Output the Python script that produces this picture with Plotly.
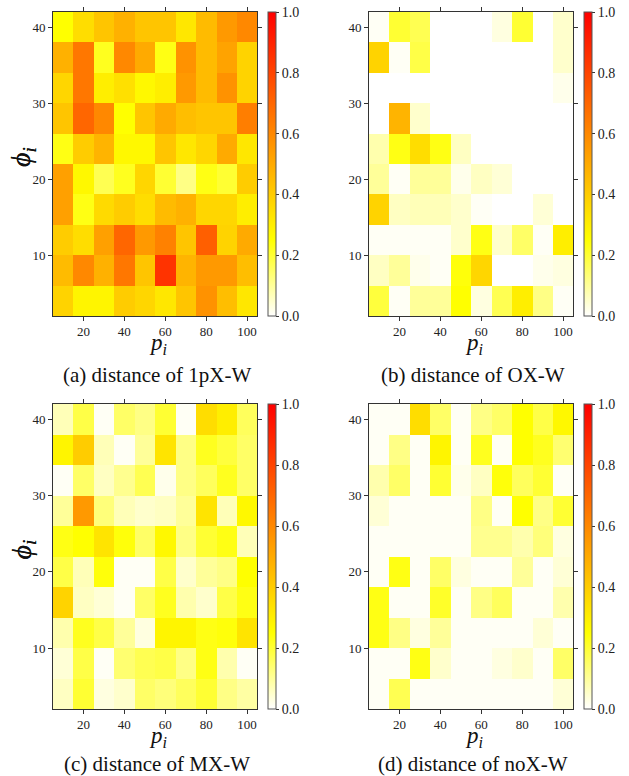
import plotly.graph_objects as go

# Grid coordinates
p_vals = [10, 20, 30, 40, 50, 60, 70, 80, 90, 100]
phi_vals = [4, 8, 12, 16, 20, 24, 28, 32, 36, 40]

# Distance matrices, rows listed from phi = 40 (top) down to phi = 4 (bottom)
dist_1px = [
    [0.25, 0.35, 0.42, 0.48, 0.42, 0.42, 0.32, 0.45, 0.55, 0.60],
    [0.48, 0.65, 0.22, 0.60, 0.50, 0.23, 0.57, 0.45, 0.52, 0.38],
    [0.37, 0.65, 0.30, 0.34, 0.27, 0.30, 0.55, 0.45, 0.57, 0.38],
    [0.42, 0.70, 0.60, 0.25, 0.42, 0.50, 0.44, 0.42, 0.42, 0.63],
    [0.23, 0.40, 0.47, 0.27, 0.27, 0.42, 0.32, 0.37, 0.50, 0.32],
    [0.53, 0.27, 0.17, 0.22, 0.37, 0.20, 0.12, 0.23, 0.20, 0.40],
    [0.53, 0.23, 0.36, 0.40, 0.35, 0.45, 0.48, 0.37, 0.37, 0.30],
    [0.40, 0.35, 0.53, 0.70, 0.55, 0.62, 0.42, 0.72, 0.38, 0.50],
    [0.45, 0.60, 0.48, 0.65, 0.42, 0.85, 0.47, 0.55, 0.55, 0.44],
    [0.38, 0.28, 0.28, 0.40, 0.37, 0.32, 0.42, 0.57, 0.44, 0.32],
]
dist_ox = [
    [0.01, 0.20, 0.17, 0.00, 0.00, 0.00, 0.03, 0.20, 0.00, 0.05],
    [0.38, 0.01, 0.18, 0.00, 0.00, 0.00, 0.00, 0.00, 0.00, 0.05],
    [0.00, 0.00, 0.00, 0.00, 0.00, 0.00, 0.00, 0.00, 0.00, 0.02],
    [0.00, 0.47, 0.05, 0.00, 0.00, 0.00, 0.00, 0.00, 0.00, 0.00],
    [0.08, 0.23, 0.35, 0.23, 0.06, 0.00, 0.00, 0.00, 0.00, 0.00],
    [0.10, 0.01, 0.10, 0.10, 0.02, 0.06, 0.04, 0.00, 0.00, 0.00],
    [0.38, 0.06, 0.07, 0.07, 0.05, 0.01, 0.00, 0.00, 0.04, 0.00],
    [0.01, 0.01, 0.01, 0.01, 0.05, 0.23, 0.05, 0.15, 0.01, 0.30],
    [0.06, 0.10, 0.02, 0.01, 0.24, 0.37, 0.00, 0.00, 0.02, 0.03],
    [0.19, 0.01, 0.10, 0.10, 0.25, 0.03, 0.17, 0.30, 0.12, 0.01],
]
dist_mx = [
    [0.07, 0.18, 0.01, 0.15, 0.12, 0.20, 0.01, 0.35, 0.30, 0.16],
    [0.28, 0.40, 0.07, 0.01, 0.10, 0.33, 0.12, 0.22, 0.19, 0.15],
    [0.01, 0.15, 0.06, 0.11, 0.17, 0.02, 0.12, 0.16, 0.22, 0.15],
    [0.10, 0.55, 0.13, 0.07, 0.05, 0.06, 0.10, 0.33, 0.07, 0.27],
    [0.23, 0.25, 0.33, 0.24, 0.15, 0.27, 0.12, 0.20, 0.23, 0.07],
    [0.18, 0.07, 0.24, 0.01, 0.01, 0.18, 0.05, 0.10, 0.12, 0.25],
    [0.38, 0.06, 0.04, 0.01, 0.15, 0.22, 0.08, 0.05, 0.18, 0.23],
    [0.08, 0.22, 0.18, 0.10, 0.03, 0.28, 0.28, 0.23, 0.24, 0.33],
    [0.04, 0.18, 0.01, 0.14, 0.17, 0.18, 0.12, 0.23, 0.08, 0.01],
    [0.06, 0.20, 0.03, 0.05, 0.15, 0.13, 0.16, 0.20, 0.12, 0.09],
]
dist_nox = [
    [0.01, 0.01, 0.35, 0.15, 0.01, 0.12, 0.15, 0.25, 0.18, 0.27],
    [0.01, 0.12, 0.01, 0.28, 0.01, 0.22, 0.01, 0.25, 0.22, 0.14],
    [0.08, 0.15, 0.01, 0.20, 0.02, 0.06, 0.24, 0.16, 0.20, 0.01],
    [0.04, 0.01, 0.01, 0.01, 0.01, 0.12, 0.01, 0.25, 0.12, 0.20],
    [0.01, 0.01, 0.01, 0.01, 0.01, 0.11, 0.11, 0.08, 0.13, 0.03],
    [0.01, 0.23, 0.01, 0.15, 0.03, 0.01, 0.01, 0.10, 0.01, 0.04],
    [0.23, 0.01, 0.01, 0.21, 0.01, 0.12, 0.16, 0.01, 0.01, 0.08],
    [0.23, 0.12, 0.03, 0.10, 0.01, 0.01, 0.01, 0.01, 0.04, 0.01],
    [0.01, 0.01, 0.23, 0.05, 0.01, 0.01, 0.03, 0.05, 0.01, 0.15],
    [0.01, 0.17, 0.01, 0.01, 0.01, 0.01, 0.01, 0.01, 0.01, 0.04],
]

captions = ["(a) distance of 1pX-W", "(b) distance of OX-W",
            "(c) distance of MX-W", "(d) distance of noX-W"]
colorbar_ticks = [0.0, 0.2, 0.4, 0.6, 0.8, 1.0]
x_ticks = [20, 40, 60, 80, 100]
y_ticks = [10, 20, 30, 40]

W, H = 629, 776
SERIF = "Liberation Serif, Times New Roman, serif"
cmap = [[0.0, "#ffffff"], [0.25, "#ffff00"], [1.0, "#ff0000"]]

# Panel boxes in pixels: (left, right, top, bottom)
boxes = [
    (52.7, 257.3, 12, 316),
    (368.7, 573.3, 12, 316),
    (52.7, 257.3, 404, 709),
    (368.7, 573.3, 404, 709),
]
cbar_left = [268.3, 584.0, 268.3, 584.0]
caption_y = [375, 375, 764, 764]

fig = go.Figure()
panels = [dist_1px, dist_ox, dist_mx, dist_nox]


def label(text, x_px, y_px, size, angle=0):
    fig.add_annotation(text=text, x=x_px / W, y=1 - y_px / H,
                       xref="paper", yref="paper", xanchor="center",
                       yanchor="middle", showarrow=False, textangle=angle,
                       borderpad=0,
                       font=dict(family=SERIF, size=size, color="#111111"))


for i, (mat, box) in enumerate(zip(panels, boxes)):
    l, r, t, b = box
    n = "" if i == 0 else str(i + 1)
    z = list(reversed(mat))  # bottom row first
    fig.add_trace(go.Heatmap(
        x=p_vals, y=phi_vals, z=z, zmin=0, zmax=1, colorscale=cmap,
        xaxis="x" + n, yaxis="y" + n,
        colorbar=dict(
            x=cbar_left[i] / W, xanchor="left", xref="paper",
            y=1 - b / H, yanchor="bottom", yref="paper",
            len=(b - t) / H, lenmode="fraction",
            thickness=8.4, thicknessmode="pixels",
            xpad=0, ypad=0, outlinewidth=1, outlinecolor="#555555",
            tickvals=colorbar_ticks, tickformat=".1f", ticks="outside",
            ticklen=3, tickcolor="#333333",
            tickfont=dict(family=SERIF, size=14, color="#222222"),
        ),
    ))
    axis_common = dict(showline=True, linecolor="#333333", linewidth=1.2,
                       mirror="ticks", ticks="outside", ticklen=3.5,
                       tickcolor="#333333", showgrid=False, zeroline=False,
                       tickfont=dict(family=SERIF, size=13, color="#222222"))
    fig.update_layout({
        "xaxis" + n: dict(domain=[l / W, r / W], range=[5, 105],
                          tickvals=x_ticks, anchor="y" + n, **axis_common),
        "yaxis" + n: dict(domain=[1 - b / H, 1 - t / H], range=[2, 42],
                          tickvals=y_ticks, anchor="x" + n, **axis_common),
    })
    cx = (l + r) / 2
    label("<i>p</i><sub><i>i</i></sub>", cx + 3, b + 28, 23)
    label("<i>ϕ</i><sub><i>i</i></sub>", 23, (t + b) / 2 - 7, 28, -90)
    label(captions[i], cx + 2, caption_y[i], 21)

fig.update_layout(width=W, height=H, margin=dict(l=0, r=0, t=0, b=0),
                  paper_bgcolor="white", plot_bgcolor="white",
                  showlegend=False)
fig.write_html("out.html")
